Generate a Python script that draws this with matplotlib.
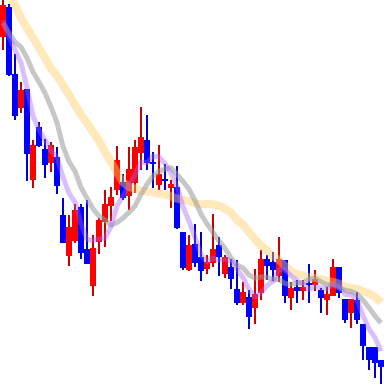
import numpy as np
import pandas as pd
import matplotlib
matplotlib.use("Agg")
import matplotlib.pyplot as plt

opens = [347, 377, 310, 276, 295, 204, 257, 235, 221, 227, 169, 128, 143, 177, 135, 98,
         142, 162, 178, 194, 202, 188, 201, 231, 244, 222, 199, 205, 196, 197, 152, 114,
         140, 127, 115, 121, 139, 110, 117, 95, 81, 87, 76, 91, 125, 122, 108, 124,
         86, 97, 93, 101, 99, 94, 84, 88, 117, 85, 71, 84, 60, 37, 37, 24]
highs = [389, 380, 330, 302, 295, 244, 262, 245, 242, 237, 186, 169, 180, 180, 184, 149,
         166, 194, 197, 238, 210, 237, 244, 277, 269, 232, 239, 220, 204, 218, 152, 149,
         160, 152, 129, 170, 147, 129, 125, 124, 102, 94, 115, 134, 129, 132, 147, 124,
         102, 104, 104, 120, 114, 96, 97, 125, 117, 85, 85, 92, 60, 37, 37, 24]
lows = [334, 308, 264, 271, 203, 196, 237, 206, 212, 190, 141, 118, 141, 125, 120, 88,
        130, 137, 163, 189, 184, 174, 191, 214, 214, 196, 194, 194, 176, 155, 114, 113,
        117, 103, 110, 117, 108, 106, 95, 79, 79, 55, 60, 84, 104, 103, 102, 81,
        74, 81, 84, 81, 93, 71, 69, 88, 86, 61, 56, 60, 24, 14, 6, 0]
closes = [379, 309, 268, 294, 230, 239, 238, 219, 239, 198, 141, 157, 174, 131, 120, 136,
          164, 180, 187, 224, 186, 215, 237, 247, 221, 220, 210, 203, 200, 156, 116, 139,
          121, 113, 122, 135, 127, 127, 105, 81, 92, 67, 90, 125, 118, 114, 125, 88,
          96, 93, 97, 99, 105, 86, 90, 117, 91, 64, 85, 64, 38, 24, 21, 17]

# moving-average values before a full window exists
ma5_head = [364, 347, 334, 321]
ma10_head = [361, 351, 342, 337, 326, 312, 302, 291, 277]
ma20_head = [399, 389, 379, 366, 356, 346, 336, 326, 315, 308, 299, 289, 279,
             269, 261, 252, 243, 232, 222]

n = len(closes)
x = np.arange(n) + 0.5
c = pd.Series(closes, dtype=float)

def ma(period, head):
    vals = c.rolling(period).mean().to_numpy()
    vals[:len(head)] = head
    return vals

ma5 = ma(5, ma5_head)
ma10 = ma(10, ma10_head)
ma20 = ma(20, ma20_head)

fig = plt.figure(figsize=(3.84, 3.84), dpi=100)
ax = fig.add_axes([0, 0, 1, 1])
ax.set_axis_off()

o = np.array(opens, float)
cl = np.array(closes, float)
up = cl >= o
body_col = np.where(up, "#ff0000", "#0000ff")
wick_col = np.where(up, "#cc0000", "#0000cc")

ax.vlines(x, lows, highs, colors=wick_col, linewidth=1.44, zorder=2, antialiased=False)
bottom = np.minimum(o, cl)
height = np.maximum(np.abs(cl - o), 1.5)
ax.bar(x, height, bottom=bottom, width=1.0, color=body_col, linewidth=0,
       zorder=3, antialiased=False)

ax.plot(x, ma20, color="#ffcc66", alpha=0.45, linewidth=5.8, zorder=4, solid_capstyle="butt")
ax.plot(x, ma10, color="#999999", alpha=0.55, linewidth=3.6, zorder=5, solid_capstyle="butt")
ax.plot(x, ma5, color="#a060ff", alpha=0.4, linewidth=3.6, zorder=6, solid_capstyle="butt")

ax.set_xlim(0, n)
ax.set_ylim(0, 384)
fig.savefig("out.png", dpi=100)
